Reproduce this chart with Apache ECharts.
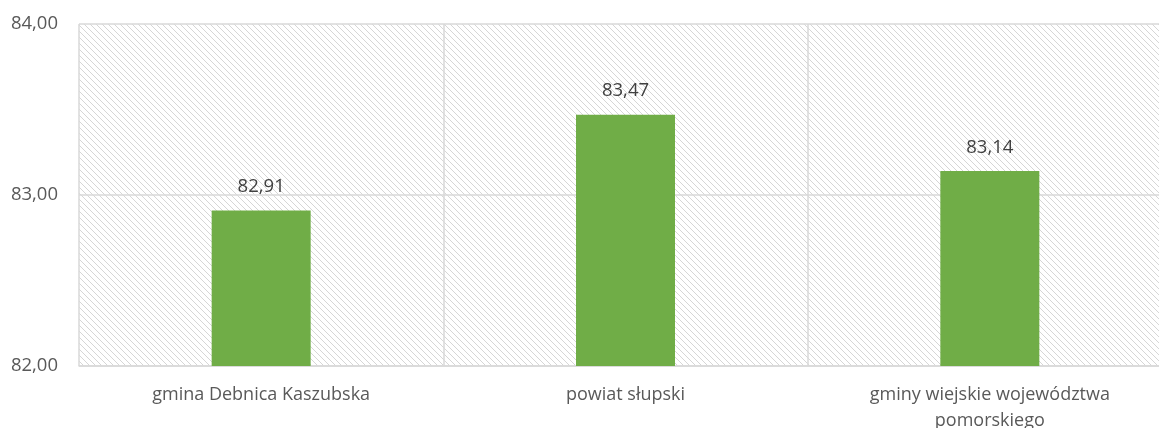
<!DOCTYPE html>
<html>
<head>
<meta charset="utf-8">
<script src="https://cdn.jsdelivr.net/npm/echarts@6/dist/echarts.min.js"></script>
<style>
  html, body { margin: 0; padding: 0; background: #fff; }
  #chart { width: 1159px; height: 428px; }
</style>
</head>
<body>
<div id="chart"></div>
<script>
// dane
const categories = ["gmina Debnica Kaszubska", "powiat słupski", "gminy wiejskie województwa\npomorskiego"];
const values = [82.91, 83.47, 83.14];

// kreskowane tło obszaru wykresu
function hatch() {
  const n = 6;
  const c = document.createElement("canvas");
  c.width = n;
  c.height = n;
  const ctx = c.getContext("2d");
  ctx.fillStyle = "#fff";
  ctx.fillRect(0, 0, n, n);
  ctx.strokeStyle = "#d6d6d6";
  ctx.lineWidth = 1;
  ctx.beginPath();
  ctx.moveTo(-1, -1);
  ctx.lineTo(n + 1, n + 1);
  ctx.moveTo(-1, n - 1);
  ctx.lineTo(1, n + 1);
  ctx.moveTo(n - 1, -1);
  ctx.lineTo(n + 1, 1);
  ctx.stroke();
  return c;
}

const fmt = (v) => v.toFixed(2).replace(".", ",");

const chart = echarts.init(document.getElementById("chart"));
chart.setOption({
  animation: false,
  textStyle: { fontFamily: "Open Sans" },
  grid: {
    left: 79,
    right: -13,
    top: 24,
    bottom: 62,
    containLabel: false,
    outerBoundsMode: "none",
    show: true,
    borderWidth: 0,
    backgroundColor: { image: hatch(), repeat: "repeat" },
  },
  xAxis: {
    type: "category",
    data: categories,
    axisLine: { show: true, lineStyle: { color: "#d9d9d9", width: 1.5 } },
    axisTick: { show: false },
    splitLine: { show: true, interval: 0, lineStyle: { color: "#d9d9d9", width: 1.5 } },
    axisLabel: {
      color: "#595959",
      fontSize: 18,
      lineHeight: 26,
      margin: 16,
      interval: 0,
    },
  },
  yAxis: {
    type: "value",
    min: 82,
    max: 84,
    interval: 1,
    axisLine: { show: false },
    axisTick: { show: false },
    splitLine: { lineStyle: { color: "#d9d9d9", width: 1.5 } },
    axisLabel: {
      color: "#595959",
      fontSize: 18.5,
      margin: 21,
      formatter: (v) => fmt(v),
    },
  },
  series: [
    {
      type: "bar",
      data: values,
      barWidth: 99,
      itemStyle: { color: "#70ad47" },
      label: {
        show: true,
        position: "top",
        distance: 14,
        color: "#404040",
        fontSize: 18.5,
        formatter: (p) => fmt(p.value),
      },
    },
  ],
});
</script>
</body>
</html>
